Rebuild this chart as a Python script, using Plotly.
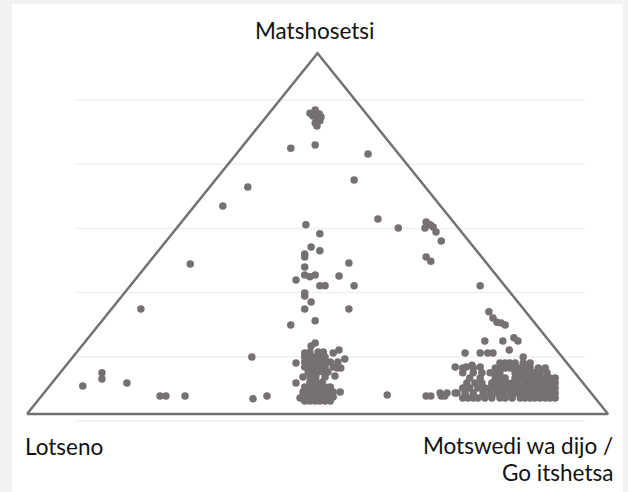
import plotly.graph_objects as go

# ---- data (x: % along base from Lotseno to Motswedi; y: height scale, gridlines every 20) ----
top_x = [48.7, 49.6, 50.3, 49.2, 49.9, 50.4, 49.6, 49.9, 50.6]
top_y = [95.9, 96.9, 95.6, 95.0, 94.4, 93.5, 92.8, 91.9, 94.7]

upper_x = [45.4, 49.6, 58.7, 56.3, 38.0, 33.7, 60.4, 63.9, 68.7, 69.4, 68.5, 69.9, 70.4, 71.3,
           68.7, 69.5, 48.0, 50.4, 28.1, 19.6, 78.0]
upper_y = [85.0, 86.0, 83.2, 75.1, 72.9, 67.0, 62.9, 60.1, 62.0, 61.1, 60.1, 60.4, 58.9, 56.1,
           51.1, 49.8, 61.1, 58.3, 48.9, 34.9, 42.1]

mid_x = [48.9, 50.4, 47.8, 47.8, 55.4, 47.8, 46.3, 47.8, 48.7, 49.6, 50.4, 51.3, 53.7, 56.3,
         47.8, 47.8, 48.9, 47.8, 55.4, 49.6, 45.4]
mid_y = [54.2, 53.0, 52.0, 51.1, 49.2, 48.0, 43.9, 45.5, 44.9, 45.5, 42.1, 42.1, 45.2, 42.1,
         39.9, 38.9, 37.1, 34.9, 34.9, 31.2, 29.9]

left_x = [9.6, 12.9, 12.9, 17.2, 22.9, 23.9, 27.2, 38.7, 38.9, 41.3, 62.0]
left_y = [10.9, 15.0, 13.1, 11.8, 7.8, 7.8, 7.8, 19.9, 6.9, 7.8, 8.1]

centre_x = [49.6, 48.9, 47.8, 53.7, 52.7, 54.7, 46.3, 53.4, 54.0, 53.0, 46.3, 53.9, 47.0,
            48.7, 50.1, 51.0,
            47.8, 48.7, 49.6, 50.4, 51.3,
            47.8, 48.7, 49.6, 50.4, 51.3, 52.2, 53.5,
            47.8, 48.7, 49.6, 50.4, 51.3, 52.7,
            48.4, 49.2, 50.1, 51.0, 51.8,
            47.5, 48.7, 49.7, 51.3,
            48.7, 49.7, 50.8,
            47.8, 48.7, 49.6, 50.4, 51.3, 52.2,
            47.5, 48.4, 49.2, 50.1, 51.0, 51.8, 52.7,
            47.5, 48.4, 49.2, 50.1, 51.0, 51.8, 52.7,
            47.8, 48.7, 49.6, 50.4, 51.3, 52.2]
centre_y = [24.3, 23.4, 21.2, 22.1, 21.2, 19.3, 18.1, 16.5, 16.5, 14.0, 11.8, 9.0, 7.2,
            21.5, 21.5, 21.5,
            19.9, 19.9, 19.9, 19.9, 19.9,
            18.4, 18.4, 18.4, 18.4, 18.4, 18.4, 18.4,
            16.8, 16.8, 16.8, 16.8, 16.8, 16.8,
            15.3, 15.3, 15.3, 15.3, 15.3,
            13.7, 13.7, 13.7, 13.7,
            12.1, 12.1, 12.1,
            10.6, 10.6, 10.6, 10.6, 10.6, 10.6,
            9.0, 9.0, 9.0, 9.0, 9.0, 9.0, 9.0,
            7.5, 7.5, 7.5, 7.5, 7.5, 7.5, 7.5,
            6.2, 6.2, 6.2, 6.2, 6.2, 6.2]

right_x = [79.5, 80.2, 80.9, 81.6, 82.3, 78.8, 81.9, 83.8, 84.5, 83.0, 75.4, 78.0, 79.3, 80.2,
           85.4, 73.7, 75.6, 76.6, 78.0, 68.7, 69.5, 71.3, 71.9, 74.0,
           81.4, 82.3, 83.1, 84.0, 85.4, 86.6,
           75.0, 76.8, 80.6, 81.4, 82.3, 83.1, 84.0, 84.9, 85.7, 86.6, 88.0, 89.2,
           75.0, 76.8, 78.3, 79.7, 80.6, 81.4, 84.0, 84.9, 85.7, 86.6, 87.4, 88.3, 89.5,
           76.2, 78.0, 80.6, 81.4, 82.3, 84.0, 84.9, 85.7, 86.6, 87.4, 88.3, 89.2, 90.0, 90.9,
           75.7, 77.1, 78.3, 80.0, 80.9, 81.8, 82.6, 83.5, 84.5, 85.7, 86.6, 87.4, 88.3, 89.2, 90.0, 90.9,
           75.0, 76.2, 77.6, 78.8, 79.7, 80.6, 81.4, 82.3, 83.1, 84.0, 84.9, 85.7, 86.6, 87.4, 88.3, 89.2, 90.0, 90.9,
           71.1, 72.3, 73.7, 75.4, 76.8, 78.5, 79.7, 80.9, 81.9, 83.1, 84.0, 84.9, 85.7, 86.6, 87.4, 88.3, 89.2, 90.0, 90.9,
           75.0, 75.9, 76.8, 77.6, 78.8, 80.0, 81.4, 82.3, 83.5, 84.9, 85.7, 86.6, 87.4, 88.3, 89.2, 90.0, 90.9]
right_y = [34.0, 32.1, 30.8, 30.5, 29.9, 24.9, 24.9, 25.9, 24.9, 22.1, 21.2, 21.2, 21.2, 21.2,
           19.9, 16.8, 16.8, 17.4, 16.8, 7.8, 7.8, 7.8, 7.8, 8.7,
           18.1, 18.1, 18.1, 18.1, 18.1, 18.1,
           16.5, 16.5, 16.5, 16.5, 16.5, 16.5, 16.5, 16.5, 16.5, 16.5, 16.5, 16.5,
           15.0, 15.0, 15.0, 15.0, 15.0, 15.0, 15.0, 15.0, 15.0, 15.0, 15.0, 15.0, 15.0,
           13.4, 13.4, 13.4, 13.4, 13.4, 13.4, 13.4, 13.4, 13.4, 13.4, 13.4, 13.4, 13.4, 13.4,
           11.8, 11.8, 11.8, 11.8, 11.8, 11.8, 11.8, 11.8, 11.8, 11.8, 11.8, 11.8, 11.8, 11.8, 11.8, 11.8,
           10.3, 10.3, 10.3, 10.3, 10.3, 10.3, 10.3, 10.3, 10.3, 10.3, 10.3, 10.3, 10.3, 10.3, 10.3, 10.3, 10.3, 10.3,
           8.7, 8.7, 8.7, 8.7, 8.7, 8.7, 8.7, 8.7, 8.7, 8.7, 8.7, 8.7, 8.7, 8.7, 8.7, 8.7, 8.7, 8.7, 8.7,
           7.2, 7.2, 7.2, 7.2, 7.2, 7.2, 7.2, 7.2, 7.2, 7.2, 7.2, 7.2, 7.2, 7.2, 7.2, 7.2, 7.2]

triangle_x = [0, 100, 50, 0]
triangle_y = [2.2, 2.2, 114.6, 2.2]

grid_levels = [0, 20, 40, 60, 80, 100]
grid_span = [8.3, 95.9]

corner_labels = ["Matshosetsi", "Lotseno", "Motswedi wa dijo /", "Go itshetsa"]

GREY = "#767171"

xs = top_x + upper_x + mid_x + left_x + centre_x + right_x
ys = top_y + upper_y + mid_y + left_y + centre_y + right_y

fig = go.Figure()
fig.add_trace(go.Scatter(x=triangle_x, y=triangle_y, mode="lines",
                         line=dict(color=GREY, width=2.5), hoverinfo="skip",
                         showlegend=False))
fig.add_trace(go.Scatter(x=xs, y=ys, mode="markers",
                         marker=dict(color=GREY, size=7.5, line=dict(width=0)),
                         showlegend=False, cliponaxis=False))

shapes = [dict(type="rect", xref="paper", yref="paper", x0=12/628, x1=623/628,
               y0=0, y1=1 - 4/492, fillcolor="white", line=dict(width=0), layer="below")]
for g in grid_levels:
    shapes.append(dict(type="line", xref="x", yref="y", x0=grid_span[0], x1=grid_span[1],
                       y0=g, y1=g, line=dict(color="#efefef", width=1.5), layer="below"))

FONT = dict(family="Lato, sans-serif", size=22.5, color="#111111")
annotations = [
    dict(text=corner_labels[0], xref="paper", yref="paper", x=314.5/628, y=1 - 31/492,
         xanchor="center", yanchor="middle", showarrow=False, font=FONT),
    dict(text=corner_labels[1], xref="paper", yref="paper", x=23/628, y=1 - 446/492,
         xanchor="left", yanchor="middle", showarrow=False, font=FONT),
    dict(text=corner_labels[2], xref="paper", yref="paper", x=615/628, y=1 - 445.5/492,
         xanchor="right", yanchor="middle", showarrow=False, font=FONT),
    dict(text=corner_labels[3], xref="paper", yref="paper", x=615/628, y=1 - 472/492,
         xanchor="right", yanchor="middle", showarrow=False, font=FONT),
]

fig.update_layout(
    width=628, height=492,
    margin=dict(l=0, r=0, t=0, b=0),
    paper_bgcolor="#f2f2f2", plot_bgcolor="rgba(0,0,0,0)",
    xaxis=dict(range=[-4.647, 103.44], visible=False, fixedrange=True),
    yaxis=dict(range=[-22.12, 131.15], visible=False, fixedrange=True),
    shapes=shapes, annotations=annotations,
)
fig.write_html("out.html", config={"displayModeBar": False},
               post_script="document.body.style.margin='0';document.body.style.overflow='hidden';")
